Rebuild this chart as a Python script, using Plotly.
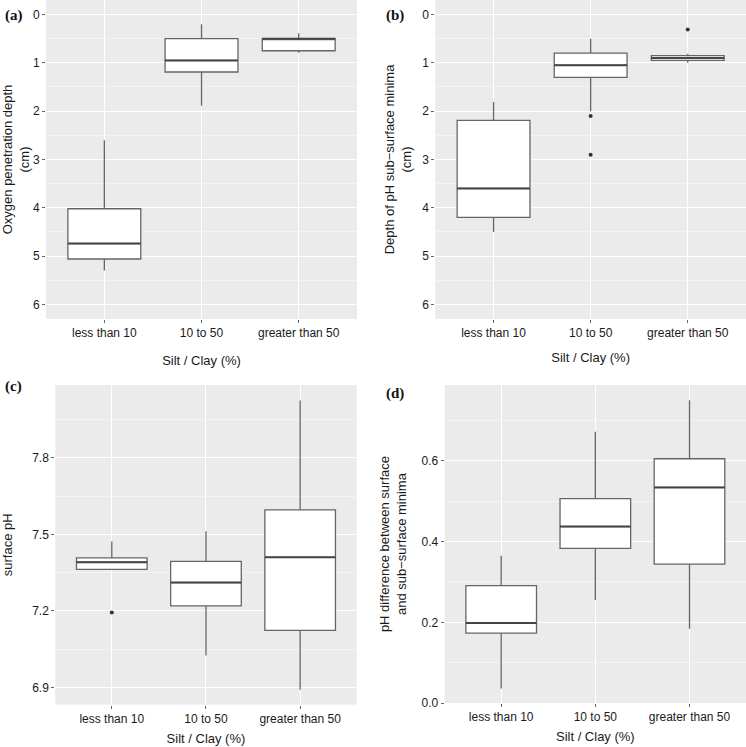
import plotly.graph_objects as go

categories = ["less than 10", "10 to 50", "greater than 50"]

# (a) Oxygen penetration depth (cm)
a_low = [2.6, 0.2, 0.39]
a_q1 = [4.02, 0.5, 0.5]
a_med = [4.74, 0.95, 0.5]
a_q3 = [5.06, 1.19, 0.75]
a_high = [5.3, 1.89, 0.79]
a_out_x = []
a_out_y = []

# (b) Depth of pH sub-surface minima (cm)
b_low = [1.81, 0.5, 0.81]
b_q1 = [2.19, 0.8, 0.85]
b_med = [3.6, 1.05, 0.9]
b_q3 = [4.2, 1.3, 0.95]
b_high = [4.5, 2.0, 1.0]
b_out_x = ["10 to 50", "10 to 50", "greater than 50"]
b_out_y = [2.1, 2.9, 0.31]

# (c) surface pH
c_low = [7.36, 7.025, 6.891]
c_q1 = [7.363, 7.22, 7.124]
c_med = [7.391, 7.311, 7.41]
c_q3 = [7.408, 7.394, 7.596]
c_high = [7.472, 7.512, 8.024]
c_out_x = ["less than 10"]
c_out_y = [7.194]

# (d) pH difference between surface and sub-surface minima
d_low = [0.036, 0.255, 0.184]
d_q1 = [0.173, 0.383, 0.344]
d_med = [0.198, 0.437, 0.534]
d_q3 = [0.291, 0.506, 0.605]
d_high = [0.365, 0.672, 0.75]
d_out_x = []
d_out_y = []

panels = [
    dict(low=a_low, q1=a_q1, med=a_med, q3=a_q3, high=a_high, ox=a_out_x, oy=a_out_y,
         xa="x", ya="y", xdom=[0.0617, 0.4786], ydom=[0.569, 1.0],
         yrange=[6.3, -0.3], tickvals=[0, 1, 2, 3, 4, 5, 6], minor=0.5,
         ytitle="Oxygen penetration depth<br>(cm)", label="(a)",
         ystand=4, xstand=16, lx=3, ly=16),
    dict(low=b_low, q1=b_q1, med=b_med, q3=b_q3, high=b_high, ox=b_out_x, oy=b_out_y,
         xa="x2", ya="y2", xdom=[0.5835, 1.0], ydom=[0.569, 1.0],
         yrange=[6.3, -0.3], tickvals=[0, 1, 2, 3, 4, 5, 6], minor=0.5,
         ytitle="Depth of pH sub\u2212surface minima<br>(cm)", label="(b)",
         ystand=7, xstand=13, lx=384, ly=16),
    dict(low=c_low, q1=c_q1, med=c_med, q3=c_q3, high=c_high, ox=c_out_x, oy=c_out_y,
         xa="x3", ya="y3", xdom=[0.0741, 0.4781], ydom=[0.0478, 0.4797],
         yrange=[6.833, 8.085], tickvals=[6.9, 7.2, 7.5, 7.8], minor=0.15,
         ytitle="surface pH", label="(c)",
         ystand=16, xstand=8, lx=3, ly=390),
    dict(low=d_low, q1=d_q1, med=d_med, q3=d_q3, high=d_high, ox=d_out_x, oy=d_out_y,
         xa="x4", ya="y4", xdom=[0.5961, 1.0], ydom=[0.0499, 0.4797],
         yrange=[0.0, 0.7875], tickvals=[0.0, 0.2, 0.4, 0.6], minor=0.1,
         ytitle="pH difference between surface<br>and sub\u2212surface minima", label="(d)",
         ystand=12, xstand=8, lx=384, ly=397),
]

BOX_W = 0.75
xpos = list(range(len(categories)))
FONT = "Liberation Sans, Arial, sans-serif"
TXT = "#1A1A1A"

fig = go.Figure()
layout = dict(
    width=746, height=747, margin=dict(l=0, r=0, t=0, b=0),
    paper_bgcolor="white", plot_bgcolor="#EBEBEB", showlegend=False,
    font=dict(family=FONT, size=12, color=TXT),
)
annotations = []

for i, p in enumerate(panels):
    fig.add_trace(go.Box(
        x=xpos, q1=p["q1"], median=p["med"], q3=p["q3"],
        lowerfence=p["low"], upperfence=p["high"],
        width=BOX_W, whiskerwidth=0, fillcolor="white",
        line=dict(color="#666666", width=1.3), boxpoints=False,
        xaxis=p["xa"], yaxis=p["ya"], hoverinfo="skip",
    ))
    # emphasised median lines
    for j, m in enumerate(p["med"]):
        fig.add_trace(go.Scatter(
            x=[xpos[j] - BOX_W / 2, xpos[j] + BOX_W / 2], y=[m, m], mode="lines",
            line=dict(color="#444444", width=2), xaxis=p["xa"], yaxis=p["ya"],
            hoverinfo="skip",
        ))
    if p["ox"]:
        fig.add_trace(go.Scatter(
            x=[categories.index(c) for c in p["ox"]], y=p["oy"], mode="markers",
            marker=dict(color="#333333", size=4), xaxis=p["xa"], yaxis=p["ya"],
            hoverinfo="skip",
        ))
    xkey = "xaxis" if i == 0 else f"xaxis{i+1}"
    ykey = "yaxis" if i == 0 else f"yaxis{i+1}"
    layout[xkey] = dict(
        domain=p["xdom"], anchor=p["ya"], range=[-0.6, 2.6],
        tickmode="array", tickvals=xpos, ticktext=categories,
        showgrid=True, gridcolor="white", gridwidth=1.2,
        ticks="outside", ticklen=3, tickcolor="#666666",
        zeroline=False, showline=False,
        tickfont=dict(size=12, color=TXT),
        title=dict(text="Silt / Clay (%)", font=dict(size=13, color=TXT),
                   standoff=p["xstand"]),
    )
    layout[ykey] = dict(
        domain=p["ydom"], anchor=p["xa"], range=p["yrange"],
        tickmode="array", tickvals=p["tickvals"],
        tickformat=".1f" if i >= 2 else "d",
        showgrid=True, gridcolor="white", gridwidth=1.2,
        minor=dict(dtick=p["minor"], tick0=0, showgrid=True,
                   gridcolor="#F4F4F4", gridwidth=1),
        ticks="outside", ticklen=3, tickcolor="#666666",
        zeroline=False, showline=False,
        tickfont=dict(size=12, color=TXT),
        title=dict(text=p["ytitle"], font=dict(size=13, color=TXT), standoff=p["ystand"]),
    )
    annotations.append(dict(
        text="<b>" + p["label"] + "</b>", x=p["lx"] / 746, y=1 - p["ly"] / 747,
        xref="paper", yref="paper",
        xanchor="left", yanchor="middle", showarrow=False,
        font=dict(family="Liberation Serif, Times New Roman, serif", size=15, color="#111111"),
    ))

layout["annotations"] = annotations
fig.update_layout(**layout)
fig.write_html("out.html", config={"displayModeBar": False},
               post_script="document.body.style.margin='0';document.body.style.padding='0';")
